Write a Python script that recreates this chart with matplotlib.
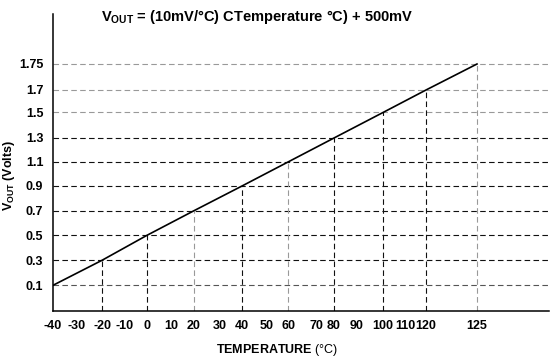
#!/usr/bin/env python
# -*- coding: utf-8 -*-

import matplotlib
matplotlib.use('Agg')
import numpy as np
import matplotlib.pyplot as plt

# Данные: Vout = 10 мВ/°C * T + 500 мВ
temps = [-40, -20, 0, 20, 40, 60, 80, 100, 120, 125]
vout = [0.1, 0.3, 0.5, 0.7, 0.9, 1.1, 1.3, 1.5, 1.7, 1.75]

x_ticks = [-40, -30, -20, -10, 0, 10, 20, 30, 40, 50, 60, 70, 80, 90,
           100, 110, 120, 125]
y_ticks = [0.1, 0.3, 0.5, 0.7, 0.9, 1.1, 1.3, 1.5, 1.7, 1.75]
y_tick_labels = ['0.1', '0.3', '0.5', '0.7', '0.9', '1.1', '1.3', '1.5',
                 '1.7', '1.75']

# Оси на исходной картинке нелинейные - задаём шкалу по узлам
x_knots = [-40, -30, -20, -10, 0, 10, 20, 30, 40, 50, 60, 70, 80, 90,
           100, 110, 120, 125, 140]
x_pos = [0, 24, 49, 72, 94, 118, 141, 167, 189, 214, 235, 263, 281, 304,
         330, 352, 373, 424, 496]
y_knots = [0.0, 0.1, 0.3, 0.5, 0.7, 0.9, 1.1, 1.3, 1.5, 1.7, 1.75, 1.95]
y_pos = [0, 25.7, 50.7, 75.7, 100.3, 125, 149, 173, 198.5, 221, 247, 297]

# Цвета пунктирной сетки (часть линий серая, как в оригинале)
h_grid_colors = ['#555555', '#111111', '#111111', '#111111', '#111111',
                 '#111111', '#111111', '#999999', '#999999', '#999999']
v_grid_colors = ['#111111', '#111111', '#999999', '#111111', '#999999',
                 '#111111', '#111111', '#111111', '#999999']

plt.rcParams['font.family'] = ['Liberation Sans', 'DejaVu Sans']
plt.rcParams['mathtext.fontset'] = 'custom'
plt.rcParams['mathtext.rm'] = 'Liberation Sans'
plt.rcParams['mathtext.bf'] = 'Liberation Sans:bold'
plt.rcParams['mathtext.it'] = 'Liberation Sans:italic'


def fwd_x(v):
    return np.interp(v, x_knots, x_pos)


def inv_x(v):
    return np.interp(v, x_pos, x_knots)


def fwd_y(v):
    return np.interp(v, y_knots, y_pos)


def inv_y(v):
    return np.interp(v, y_pos, y_knots)


fig = plt.figure(figsize=(5.53, 3.58), dpi=100)
ax = fig.add_axes([53 / 553, 47 / 358, 496 / 553, 297 / 358])
ax.set_xscale('function', functions=(fwd_x, inv_x))
ax.set_yscale('function', functions=(fwd_y, inv_y))
ax.set_xlim(-40, 140)
ax.set_ylim(0, 1.95)

dash = dict(linestyle=(0, (5, 3)), linewidth=0.8)

# Горизонтальные линии сетки
for y, c in zip(y_ticks, h_grid_colors):
    ax.axhline(y, color=c, zorder=1, **dash)

# Вертикальные линии от оси до точки на графике
for t, v, c in zip(temps[1:], vout[1:], v_grid_colors):
    ax.vlines(t, 0, v, color=c, zorder=1, **dash)

ax.plot(temps, vout, color='black', linewidth=1.2, zorder=3)

ax.set_xticks(x_ticks)
ax.set_xticklabels([str(t) for t in x_ticks], fontsize=9, fontweight='bold')
ax.set_yticks(y_ticks)
ax.set_yticklabels(y_tick_labels, fontsize=9, fontweight='bold')
ax.tick_params(axis='both', length=0)
ax.tick_params(axis='x', pad=6.5)
ax.tick_params(axis='y', pad=7)
ax.minorticks_off()

for side in ['top', 'right']:
    ax.spines[side].set_visible(False)
for side in ['left', 'bottom']:
    ax.spines[side].set_linewidth(1.1)

ax.set_xlabel(r'TEMPERATURE $\mathrm{(°C)}$', fontsize=9, fontweight='bold')
ax.xaxis.set_label_coords(0.452, -0.105)
ax.set_ylabel(r'$\mathbf{V}_{\mathbf{OUT}}$ (Volts)', fontsize=9,
              fontweight='bold')
ax.yaxis.set_label_coords(-0.0726, 0.458)

fig.text(257 / 553, 1 - 17 / 358,
         r'$\mathbf{V}_{\mathbf{OUT}}$ = (10mV/°C) CTemperature °C) + 500mV',
         fontsize=10.5, fontweight='bold', ha='center', va='center')

plt.savefig('out.png', dpi=100)
plt.close()
